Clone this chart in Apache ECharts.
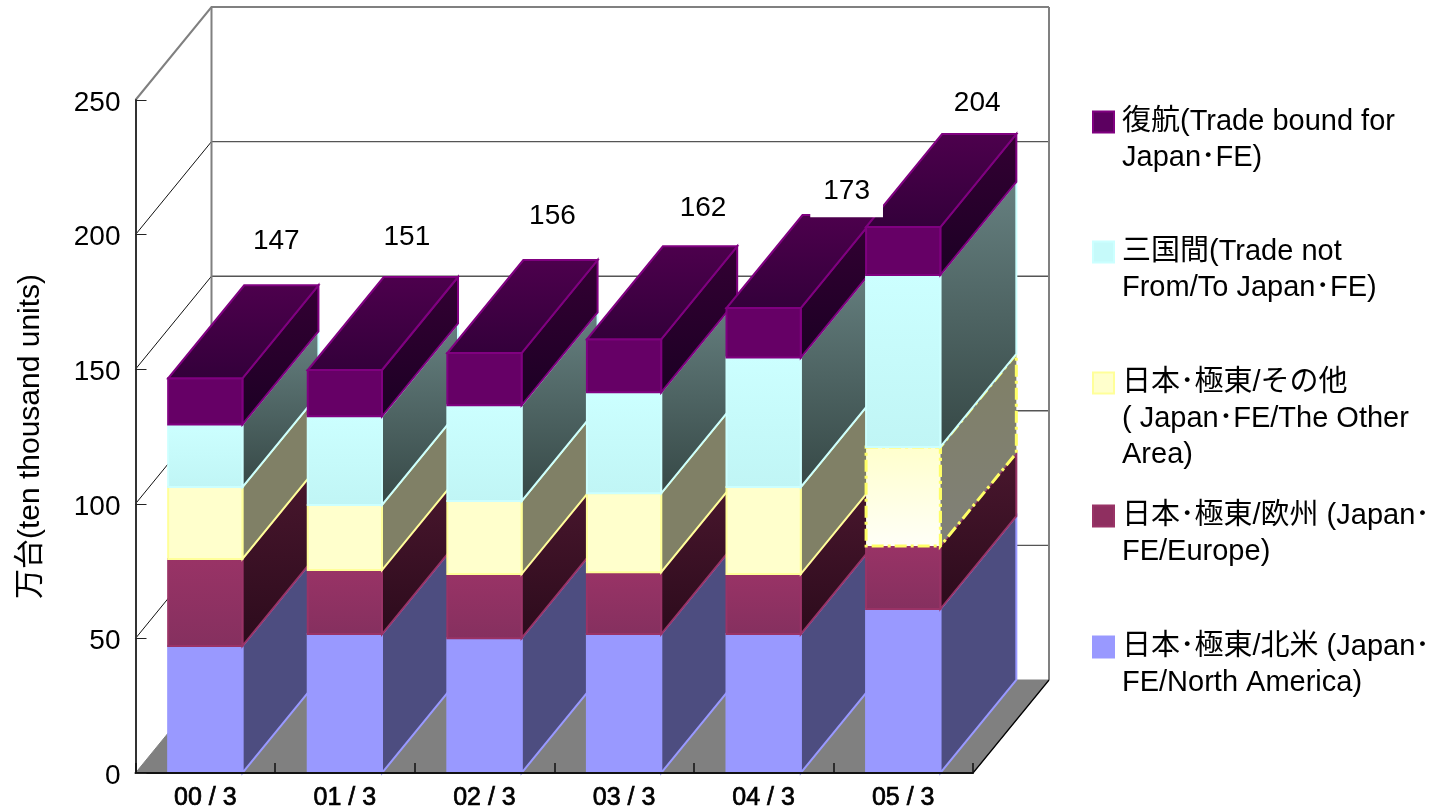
<!DOCTYPE html>
<html><head><meta charset="utf-8">
<style>html,body{margin:0;padding:0;background:#fff}#c{width:1447px;height:811px}</style>
<script src="https://cdn.jsdelivr.net/npm/echarts@6/dist/echarts.min.js"></script>
</head><body><div id="c"></div>
<script>
const categories = ['00/3','01/3','02/3','03/3','04/3','05/3'];
const northAmerica = [47.2, 51.6, 50.1, 51.6, 51.6, 60.9];
const europe       = [32.3, 23.8, 23.8, 23.0, 22.3, 23.4];
const otherArea    = [26.7, 24.2, 27.1, 29.3, 32.3, 36.8];
const notJapan     = [23.3, 32.9, 35.6, 37.5, 48.1, 63.9];
const boundJapan   = [17.1, 17.2, 19.4, 19.7, 18.4, 17.8];
const totals       = [147, 151, 156, 162, 173, 204];
const yTicks       = [0, 50, 100, 150, 200, 250];
const seriesNames = [
  '日本･極東/北米 (Japan･\nFE/North America)',
  '日本･極東/欧州 (Japan･\nFE/Europe)',
  '日本･極東/その他\n( Japan･FE/The Other\nArea)',
  '三国間(Trade not\nFrom/To Japan･FE)',
  '復航(Trade bound for\nJapan･FE)'
];
const seriesValues = [northAmerica, europe, otherArea, notJapan, boundJapan];

// styling and projection, separate from the data
const DX = 76, DY = -93, BAR_RATIO = 0.532;
const FONT = '"Liberation Sans","Noto Sans CJK JP",sans-serif';
const lg = (a, b) => ({type:'linear',x:0,y:0,x2:0,y2:1,colorStops:[{offset:0,color:a},{offset:1,color:b}]});
const skins = [
  {front:'#9999ff', stroke:'#9999ff', side:'#4d4d80', legend:'#9999ff', lw:2},
  {front:lg('#993366','#85305f'), stroke:'#993366', side:lg('#4a172e','#2c0b1c'), legend:'#8f2f60', lw:2},
  {front:lg('#ffffcc','#ffffcc'), stroke:'#ffff99', side:'#808066', legend:'#ffffcc', lw:2},
  {front:lg('#ccffff','#c0f5f5'), stroke:'#ccffff', side:lg('#668080','#364846'), legend:'#c6fafa', lw:2},
  {front:'#660066', stroke:'#800080', side:lg('#330033','#1c0024'), legend:'#5c0060', lw:2}
];
const topFace = lg('#4d004d','#33003a');
const labelNudge = [[71,-43],[62,-36],[68,-44],[79,-36],[83,-23],[74,-28]];
const legendCenters = [647, 516, 383, 252, 122];
const legendBlanks = [1, 1, 2, 1, 1];
const LEGEND_LINE = 36;

function polygon(pts, fill, stroke, lw, z2, dash){
  return {type:'polygon', z2, shape:{points:pts},
    style:{fill, stroke, lineWidth:lw, lineDash:dash||null, lineJoin:'miter'}};
}
function seg(pts, stroke, lw, z2){
  return {type:'polyline', z2, shape:{points:pts}, style:{fill:null, stroke, lineWidth:lw}};
}
function renderWalls(params, api){
  const cs = params.coordSys, v = api.value(0);
  const y = api.coord([0, v])[1], xl = cs.x, xr = cs.x + cs.width;
  const out = [];
  const z2 = -10;
  if (v === 0){
    out.push(polygon([[xl,y],[xr,y],[xr+DX,y+DY],[xl+DX,y+DY]],'#808080','#808080',1,z2));
    out.push(seg([[xr,y],[xr+DX,y+DY]],'#000',1.2,z2+2));
    out.push(seg([[xl+DX,y+DY],[xl+DX,cs.y+DY]],'#808080',2,z2+1));
    out.push(seg([[xr+DX,y+DY],[xr+DX,cs.y+DY]],'#808080',2,z2+1));
  } else if (v === 250){
    out.push(seg([[xl,y],[xl+DX,y+DY],[xr+DX,y+DY]],'#808080',2,z2+1));
  } else {
    out.push(seg([[xl,y],[xl+DX,y+DY]],'#111',1,z2));
    out.push(seg([[xl+DX,y+DY],[xr+DX,y+DY]],'#555',1.4,z2));
  }
  return {type:'group', children:out};
}
function makeBarRenderer(si){
  return function(params, api){
    const cat = api.value(0), top = api.coord([cat, api.value(1)]), base = api.coord([cat, api.value(2)]);
    const w = api.size([1,0])[0] * BAR_RATIO, x0 = top[0]-w/2, x1 = top[0]+w/2;
    const yt = top[1], yb = base[1];
    const s = skins[si], z = 10 + cat*10 + si;
    const kids = [];
    const special = si === 2 && cat === 5;
    const sideFill = special ? lg('#808066','#808078') : s.side;
    const frontFill = special ? lg('#ffffcc','#fffff8') : s.front;
    const sidePts = [[x1,yb],[x1,yt],[x1+DX,yt+DY],[x1+DX,yb+DY]];
    kids.push(polygon(sidePts, sideFill, special?null:s.stroke, s.lw, z));
    if (special) kids.push({type:'polygon',z2:z,shape:{points:sidePts},style:{fill:null,stroke:'#ffff66',lineWidth:3,lineDash:[12,4,3,4]}});
    kids.push({type:'rect', z2:z, shape:{x:x0,y:yt,width:w,height:yb-yt},
      style:{fill:frontFill, stroke:special?'#ffff66':s.stroke, lineWidth:special?3:s.lw, lineDash:special?[12,4,3,4]:null}});
    if (si === seriesValues.length-1){
      kids.push(polygon([[x0,yt],[x1,yt],[x1+DX,yt+DY],[x0+DX,yt+DY]], topFace, s.stroke, s.lw, z));
    }
    return {type:'group', children:kids};
  };
}
function renderTotals(params, api){
  const i = api.value(0), p = api.coord([i, api.value(1)]), n = labelNudge[i];
  return {type:'text', z2:500, x:p[0]+n[0], y:p[1]+DY+n[1],
    style:{text:String(api.value(1)), font:'28px '+FONT, fill:'#000',
      align:'center', verticalAlign:'middle', backgroundColor:'#fff', padding:[12,13,12,13]}};
}

let running = categories.map(()=>0);
const barSeries = seriesValues.map((vals, si) => {
  const data = vals.map((v,i) => { const base = running[i]; running[i] = +(base+v).toFixed(1); return [i, running[i], base]; });
  return {type:'custom', name:seriesNames[si], coordinateSystem:'cartesian2d', clip:false,
    renderItem:makeBarRenderer(si), encode:{x:0,y:[1,2]}, data, silent:true,
    itemStyle:{color:skins[si].legend, borderColor:skins[si].stroke, borderWidth:1}};
});

const option = {
  animation:false, backgroundColor:'#fff',
  textStyle:{fontFamily:FONT},
  grid:{left:135.5, right:474, top:100, bottom:38, containLabel:false, outerBoundsMode:'none'},
  xAxis:{type:'category', data:categories, z:20,
    axisLine:{lineStyle:{color:'#111',width:2}},
    axisTick:{show:true,alignWithLabel:false,interval:0,inside:true,length:10,lineStyle:{color:'#111',width:1.5}},
    axisLabel:{fontSize:25,color:'#000',margin:13,fontFamily:FONT,textBorderColor:'#000',textBorderWidth:0.7,
      formatter:c=>c.replace('/',' / ')}},
  yAxis:{type:'value', min:0, max:250, interval:50, splitLine:{show:false}, z:20,
    name:'万台(ten thousand units)', nameLocation:'middle', nameGap:90, nameRotate:90,
    nameTextStyle:{fontSize:30,color:'#000',fontFamily:FONT},
    axisLine:{show:true,lineStyle:{color:'#333',width:2}}, axisTick:{show:true,inside:true,length:11,lineStyle:{color:'#222',width:1}},
    axisLabel:{fontSize:28,color:'#000',margin:15,fontFamily:FONT,verticalAlign:'top',lineHeight:6}},
  legend: seriesNames.map((n,i)=>{
    const lines = n.split('\n').length + legendBlanks[i];
    return {
      data:[{name:n,icon:'rect'}], left:1092, top:legendCenters[i]-lines*LEGEND_LINE/2, orient:'vertical', selectedMode:false,
      itemWidth:21, itemHeight:21, itemGap:0, padding:0,
      formatter:t=>'\n'.repeat(legendBlanks[i])+t,
      textStyle:{fontSize:29,color:'#000',lineHeight:LEGEND_LINE,fontFamily:FONT,padding:[0,0,0,3]}
    };
  }),
  series:[
    {type:'custom', name:'walls', coordinateSystem:'cartesian2d', clip:false, silent:true,
     renderItem:renderWalls, data:yTicks.map(t=>[t]), encode:{y:0}},
    ...barSeries,
    {type:'custom', name:'totals', coordinateSystem:'cartesian2d', clip:false, silent:true,
     renderItem:renderTotals, data:totals.map((t,i)=>[i,t]), encode:{x:0,y:1}}
  ]
};
const chart = echarts.init(document.getElementById('c'),null,{renderer:'canvas'});
chart.setOption(option);
</script></body></html>
